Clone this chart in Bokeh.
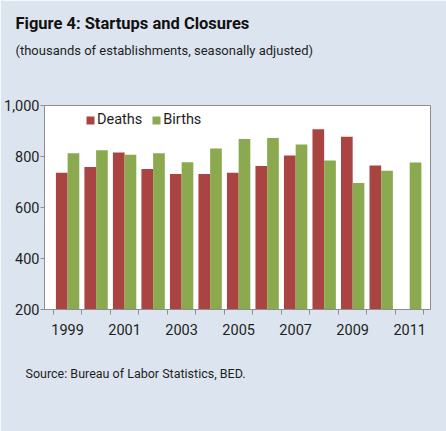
from bokeh.plotting import figure
from bokeh.models import (Title, FixedTicker, NumeralTickFormatter, Legend, LegendItem,
                          Range1d, ColumnDataSource)
from bokeh.transform import dodge
from bokeh.embed import file_html
from bokeh.resources import INLINE

# ---- data (thousands of establishments) ----
years = [1999, 2000, 2001, 2002, 2003, 2004, 2005, 2006, 2007, 2008, 2009, 2010, 2011]
deaths = [736, 759, 816, 751, 731, 731, 736, 763, 804, 907, 877, 765, float("nan")]
births = [813, 825, 807, 813, 777, 831, 869, 873, 847, 784, 696, 744, 776]
x_tick_labels = [1999, 2001, 2003, 2005, 2007, 2009, 2011]
y_ticks = [200, 400, 600, 800, 1000]

title_text = "Figure 4: Startups and Closures"
subtitle_text = "(thousands of establishments, seasonally adjusted)"
source_text = "Source: Bureau of Labor Statistics,  BED."

BG = "#DCE5EF"
RED = "#A94442"
GREEN = "#8BAA4F"
AXIS = "#8E8E8E"
TXT = "#1E1E1E"
FONT = "Roboto"

src = ColumnDataSource(dict(year=years, deaths=deaths, births=births))

p = figure(width=446, height=431, output_backend="svg", toolbar_location=None,
           title=None, x_range=Range1d(1998.19, 2011.73), y_range=Range1d(200, 1000),
           min_border_left=44, min_border_right=16, min_border_top=105, min_border_bottom=122)
p.background_fill_color = "white"
p.border_fill_color = BG
p.outline_line_color = AXIS
p.xgrid.visible = False
p.ygrid.visible = False

r_d = p.vbar(x=dodge("year", -0.205), top="deaths", bottom=0, width=0.41,
             source=src, fill_color=RED, line_color=None)
r_b = p.vbar(x=dodge("year", 0.205), top="births", bottom=0, width=0.41,
             source=src, fill_color=GREEN, line_color=None)

# x axis: labels on odd years, tick marks between categories
boundaries = [y - 0.5 for y in years] + [years[-1] + 0.5]
p.xaxis.ticker = FixedTicker(ticks=x_tick_labels, minor_ticks=boundaries)
p.xaxis.major_tick_out = 0
p.xaxis.major_tick_in = 0
p.xaxis.minor_tick_out = 5
p.xaxis.minor_tick_in = 0
p.xaxis.minor_tick_line_color = AXIS
p.xaxis.axis_line_color = AXIS
p.xaxis.major_label_standoff = 9
p.xaxis.major_label_text_font = FONT
p.xaxis.major_label_text_font_size = "14.5px"
p.xaxis.major_label_text_color = TXT

p.yaxis.ticker = FixedTicker(ticks=y_ticks, minor_ticks=[])
p.yaxis.formatter = NumeralTickFormatter(format="0,0")
p.yaxis.major_tick_out = 4
p.yaxis.major_tick_in = 0
p.yaxis.major_tick_line_color = AXIS
p.yaxis.axis_line_color = AXIS
p.yaxis.major_label_standoff = 1
p.yaxis.major_label_text_font = FONT
p.yaxis.major_label_text_font_size = "14.5px"
p.yaxis.major_label_text_color = TXT

legend = Legend(items=[LegendItem(label="Deaths", renderers=[r_d]),
                       LegendItem(label="Births", renderers=[r_b])],
                orientation="horizontal", location=(41, 181),
                background_fill_alpha=0, border_line_color=None,
                padding=0, margin=0, spacing=9, label_standoff=2,
                glyph_width=10, glyph_height=10, label_height=10,
                label_text_font=FONT, label_text_font_size="14.5px",
                label_text_color=TXT)
p.add_layout(legend, "center")

spacer = Title(text=" ", align="left", standoff=43, text_font=FONT,
               text_font_size="1px")
sub = Title(text=subtitle_text, align="left", offset=-29, standoff=4,
            text_font=FONT, text_font_size="13px", text_font_style="normal",
            text_color=TXT)
ttl = Title(text=title_text, align="left", offset=-29, standoff=12,
            text_font=FONT, text_font_size="16.5px", text_font_style="bold",
            text_color="#111111")
p.add_layout(spacer, "above")
p.add_layout(sub, "above")
p.add_layout(ttl, "above")

srcnote = Title(text=source_text, align="left", offset=-19, standoff=52,
                text_font=FONT, text_font_size="12.5px", text_font_style="normal",
                text_color=TXT)
p.add_layout(srcnote, "below")

open("out.html", "w").write(file_html(p, INLINE))
